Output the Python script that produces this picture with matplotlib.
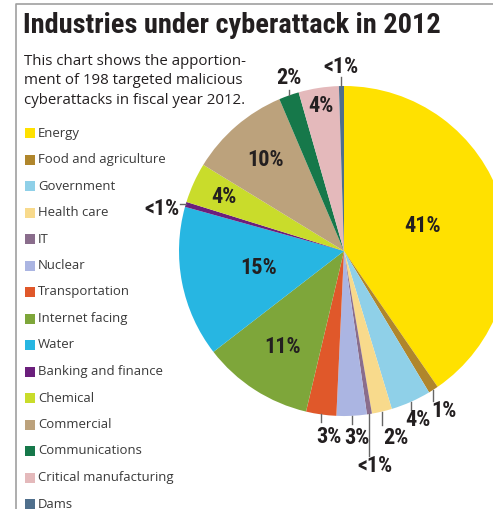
import numpy as np
import matplotlib
matplotlib.use('Agg')
import matplotlib.pyplot as plt
from matplotlib import font_manager
from matplotlib.patches import Rectangle

# 行业分布（%）
sectors = ['Energy', 'Food and agriculture', 'Government', 'Health care', 'IT',
           'Nuclear', 'Transportation', 'Internet facing', 'Water',
           'Banking and finance', 'Chemical', 'Commercial', 'Communications',
           'Critical manufacturing', 'Dams']
shares = [41, 1, 4, 2, 0.5, 3, 3, 11, 15, 0.5, 4, 10, 2, 4, 0.5]
pct_labels = ['41%', '1%', '4%', '2%', '<1%', '3%', '3%', '11%', '15%',
              '<1%', '4%', '10%', '2%', '4%', '<1%']
colors = ['#ffe100', '#b0862c', '#8fd0e8', '#f8da8c', '#8a6d8c',
          '#abb5e2', '#e0582a', '#7ea63a', '#27b6e2', '#6b1f7c',
          '#c9dc2b', '#bca27c', '#16784a', '#e4b9bb', '#4f6f8c']

W, H = 493, 509
ink = '#231f20'

# 字体
names = {f.name for f in font_manager.fontManager.ttflist}
narrow = 'DejaVu Sans'
for cand in ['Roboto Condensed', 'Open Sans Condensed', 'Liberation Sans Narrow',
             'Noto Sans Condensed']:
    if cand in names:
        narrow = cand
        break
body = 'Open Sans' if 'Open Sans' in names else 'DejaVu Sans'

fig = plt.figure(figsize=(W / 100, H / 100), dpi=100)
ax = fig.add_axes([0, 0, 1, 1])

cx, cy, r = 344, 251, 165
wedges, _ = ax.pie(shares, colors=colors, startangle=90, counterclock=False,
                   center=(cx, H - cy), radius=r,
                   wedgeprops=dict(linewidth=0))
ax.set_xlim(0, W)
ax.set_ylim(0, H)
ax.set_aspect('equal')
ax.axis('off')

renderer = fig.canvas.get_renderer()


def fit(t, width):
    bb = t.get_window_extent(renderer)
    t.set_fontsize(t.get_fontsize() * width / bb.width)


# 外框
ax.plot([16, 16, W], [0, H - 4, H - 4], color='#a0a0a0', lw=1.2, clip_on=False)

# 标题
t = ax.text(23, H - 25, 'Industries under cyberattack in 2012', fontsize=22,
            fontweight='bold', family=narrow, color=ink, va='center')
fit(t, 418)

sub = ['This chart shows the apportion-', 'ment of 198 targeted malicious',
       'cyberattacks in fiscal year 2012.']
for i, line in enumerate(sub):
    t = ax.text(24, H - (61 + i * 19.5), line, fontsize=10, family=body,
                color=ink, va='center')
    if i == 1:
        fit(t, 219)
        sub_size = t.get_fontsize()
for t in ax.texts[-3:]:
    t.set_fontsize(sub_size)

# 图例
leg_size = None
for i, (name, c) in enumerate(zip(sectors, colors)):
    y = H - (133 + i * 26.5)
    ax.add_patch(Rectangle((25, y - 5), 10, 10, color=c, lw=0))
    t = ax.text(38, y, name, fontsize=9, family=body, color='#3a3a3a',
                va='center')
    if name == 'Food and agriculture':
        fit(t, 128)
        leg_size = t.get_fontsize()
for t in ax.texts[-len(sectors):]:
    t.set_fontsize(leg_size)

# 百分比标签
theta = []
for w in wedges:
    theta.append(np.deg2rad((w.theta1 + w.theta2) / 2))

inside = {0: 0.5, 7: 0.69, 8: 0.53, 10: 0.8, 11: 0.73, 13: 0.89}
# 外部标签: (引线方向, 引线长度, 文字偏移 dx, dy)
outside = {1: ('v', 11, 11, 21), 2: ('v', 8, 7, 18), 3: ('v', 13, 14, 26),
           4: ('v', 42, 6, 52), 5: ('v', 8, 5, 22), 6: ('v', 8, 8, 23),
           12: ('v', -5, 0, -17), 14: ('v', -9, 0, -19), 9: ('h', -6, -24, 5)}

lab_kw = dict(fontsize=16, fontweight='bold', family=narrow, color=ink,
              ha='center', va='center')
for i, a in enumerate(theta):
    if i in inside:
        f = inside[i]
        ax.text(cx + f * r * np.cos(a), H - cy + f * r * np.sin(a),
                pct_labels[i], **lab_kw)
    elif i in outside:
        kind, ln, dx, dy = outside[i]
        x0 = cx + r * np.cos(a)
        y0 = H - cy + r * np.sin(a)
        if kind == 'v':
            ax.plot([x0, x0], [y0, y0 - ln], color='#666666', lw=1)
        else:
            ax.plot([x0, x0 + ln], [y0, y0], color='#666666', lw=1)
        ax.text(x0 + dx, y0 - dy, pct_labels[i], **lab_kw)

fig.savefig('out.png', dpi=100)
